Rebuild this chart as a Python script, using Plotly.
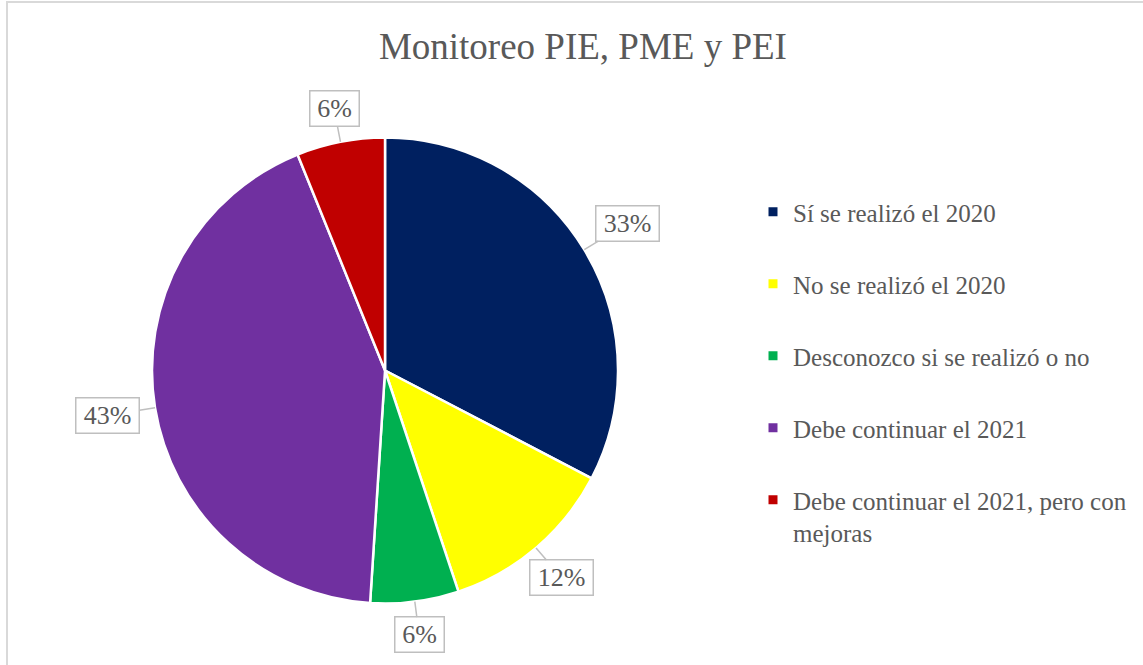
import math
import plotly.graph_objects as go

# ---- data ----
categories = [
    "Sí se realizó el 2020",
    "No se realizó el 2020",
    "Desconozco si se realizó o no",
    "Debe continuar el 2021",
    "Debe continuar el 2021, pero con mejoras",
]
legend_labels = [
    "Sí se realizó el 2020",
    "No se realizó el 2020",
    "Desconozco si se realizó o no",
    "Debe continuar el 2021",
    "Debe continuar el 2021, pero con<br>mejoras",
]
counts = [16, 6, 3, 21, 3]
colors = ["#002060", "#FFFF00", "#00B050", "#7030A0", "#C00000"]
title_text = "Monitoreo PIE, PME y PEI"

W, H = 1143, 665
FONT = "Liberation Serif"
GREY = "#595959"

dom_x = [0.133, 0.5407]
dom_y = [0.0917, 0.794]

fig = go.Figure()
fig.add_trace(go.Pie(
    labels=categories, values=counts, sort=False, direction="clockwise",
    rotation=0, marker=dict(colors=colors, line=dict(color="white", width=2.5)),
    textinfo="none", hoverinfo="label+percent", showlegend=False,
    domain=dict(x=dom_x, y=dom_y),
))

# legend entries via empty traces (allows spacing between items)
for lab, col in zip(legend_labels, colors):
    fig.add_trace(go.Scatter(
        x=[None], y=[None], mode="markers", name=lab, legendgroup=lab,
        marker=dict(symbol="square", size=9, color=col),
        showlegend=True,
    ))

# data labels derived from values and pie geometry
total = sum(counts)
cx = (dom_x[0] + dom_x[1]) / 2 * W
cy = (1 - (dom_y[0] + dom_y[1]) / 2) * H
r = min((dom_x[1] - dom_x[0]) * W, (dom_y[1] - dom_y[0]) * H) / 2
gap = 15
pad = 4
half_h = 18.5
cum = 0
annotations = []
for v in counts:
    txt = f"{round(v / total * 100)}%"
    half_w = 11.5 + 7 * len(txt)
    mid = (cum + v / 2) / total * 2 * math.pi
    cum += v
    sx, sy = math.sin(mid), -math.cos(mid)
    ext = min(half_w / max(abs(sx), 1e-6), half_h / max(abs(sy), 1e-6))
    dist = gap + ext
    px, py = cx + r * sx, cy + r * sy
    annotations.append(dict(
        x=px / W, y=1 - py / H, xref="paper", yref="paper",
        text=txt, width=2 * half_w - 2 * pad - 3, height=2 * half_h - 2 * pad - 3,
        showarrow=True, arrowhead=0, arrowwidth=1.5, arrowcolor="#BFBFBF",
        standoff=0, ax=dist * sx, ay=dist * sy,
        bordercolor="#BFBFBF", borderwidth=1.5, borderpad=pad, bgcolor="white",
        font=dict(family=FONT, size=26, color=GREY),
    ))

fig.update_layout(
    width=W, height=H,
    margin=dict(l=0, r=0, t=0, b=0),
    paper_bgcolor="white", plot_bgcolor="white",
    title=dict(text=title_text, x=0.51, xanchor="center", y=1 - 46 / H,
               yanchor="middle", yref="container",
               font=dict(family=FONT, size=37, color=GREY)),
    xaxis=dict(visible=False), yaxis=dict(visible=False),
    legend=dict(x=753 / W, y=1 - 189 / H, xanchor="left", yanchor="top",
                font=dict(family=FONT, size=25, color=GREY),
                tracegroupgap=36.5, valign="top", bgcolor="rgba(0,0,0,0)"),
    annotations=annotations,
    shapes=[dict(type="rect", xref="paper", yref="paper",
                 x0=7 / W, x1=1.05, y0=-0.05, y1=1 - 2 / H,
                 line=dict(color="#D9D9D9", width=2), layer="below")],
    showlegend=True,
)

fig.write_html("out.html", config={"displayModeBar": False},
               post_script="document.body.style.margin='0';")
